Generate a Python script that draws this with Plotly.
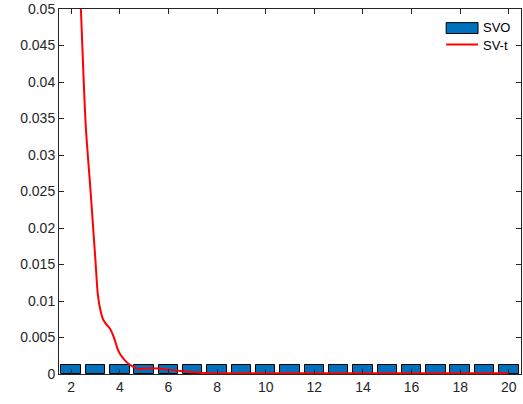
import plotly.graph_objects as go

# Data
bar_x = list(range(2, 21))
bar_svo = [0.0012] * len(bar_x)

line_x = [2.2, 2.4, 2.6, 2.8, 3.0, 3.1, 3.2, 3.3, 3.4, 3.5, 3.6, 3.7, 3.8, 3.9, 4.0,
          4.2, 4.4, 4.6, 4.8, 5.0, 5.3, 5.6, 6.0, 6.5, 7.0, 7.5, 8.0, 10, 12, 14, 16, 18, 20]
line_svt = [0.066, 0.050, 0.034, 0.025, 0.0155, 0.0108, 0.0088, 0.0076, 0.0070, 0.0066,
            0.0062, 0.0055, 0.0046, 0.0035, 0.0028, 0.0019, 0.0013, 0.0009, 0.0007,
            0.00072, 0.0008, 0.00075, 0.0006, 0.0004, 0.00025, 0.00015, 0.0001,
            0.0001, 0.0001, 0.0001, 0.0001, 0.0001, 0.0001]

y_ticks = [0, 0.005, 0.01, 0.015, 0.02, 0.025, 0.03, 0.035, 0.04, 0.045, 0.05]
y_labels = ["0", "0.005", "0.01", "0.015", "0.02", "0.025", "0.03", "0.035", "0.04", "0.045", "0.05"]
x_ticks = list(range(2, 21, 2))

AX = "#262626"
FONT = "Liberation Sans, Arial, Helvetica, sans-serif"

fig = go.Figure()
fig.add_trace(go.Bar(x=bar_x, y=bar_svo, width=0.8, name="SVO",
                     marker=dict(color="#0072BD", line=dict(color="black", width=1)),
                     showlegend=False))
fig.add_trace(go.Scatter(x=line_x, y=line_svt, mode="lines", name="SV-t",
                         line=dict(color="#FF0000", width=2, shape="spline", smoothing=0.8),
                         showlegend=False, cliponaxis=True))

fig.update_layout(
    width=523, height=404,
    margin=dict(l=59, r=1, t=7, b=30),
    paper_bgcolor="white", plot_bgcolor="white",
    font=dict(family=FONT, size=14, color=AX),
    bargap=0,
)
fig.update_xaxes(range=[1.5, 20.5], tickvals=x_ticks, ticks="inside", ticklen=5,
                 tickcolor=AX, showline=True, linecolor=AX, linewidth=1, mirror="ticks",
                 showgrid=False, zeroline=False, ticklabeloverflow="allow")
fig.update_yaxes(range=[0, 0.05], tickvals=y_ticks, ticktext=y_labels, ticks="inside",
                 ticklen=5, tickcolor=AX, showline=True, linecolor=AX, linewidth=1,
                 mirror="ticks", showgrid=False, zeroline=False, ticklabeloverflow="allow")

# Legend (drawn manually, MATLAB-style, no box)
fig.add_shape(type="rect", xref="paper", yref="paper", x0=0.838, x1=0.907,
              y0=0.9328, y1=0.9627, fillcolor="#0072BD", line=dict(color="black", width=1))
fig.add_shape(type="line", xref="paper", yref="paper", x0=0.838, x1=0.907,
              y0=0.9029, y1=0.9029, line=dict(color="#FF0000", width=2))
fig.add_annotation(xref="paper", yref="paper", x=0.9136, y=0.948, text="SVO",
                   showarrow=False, xanchor="left", yanchor="middle",
                   font=dict(family=FONT, size=13, color="black"))
fig.add_annotation(xref="paper", yref="paper", x=0.9136, y=0.899, text="SV-t",
                   showarrow=False, xanchor="left", yanchor="middle",
                   font=dict(family=FONT, size=13, color="black"))

fig.write_html("out.html", config={"displayModeBar": False},
               post_script="document.body.style.margin='0px';document.body.style.padding='0px';")
